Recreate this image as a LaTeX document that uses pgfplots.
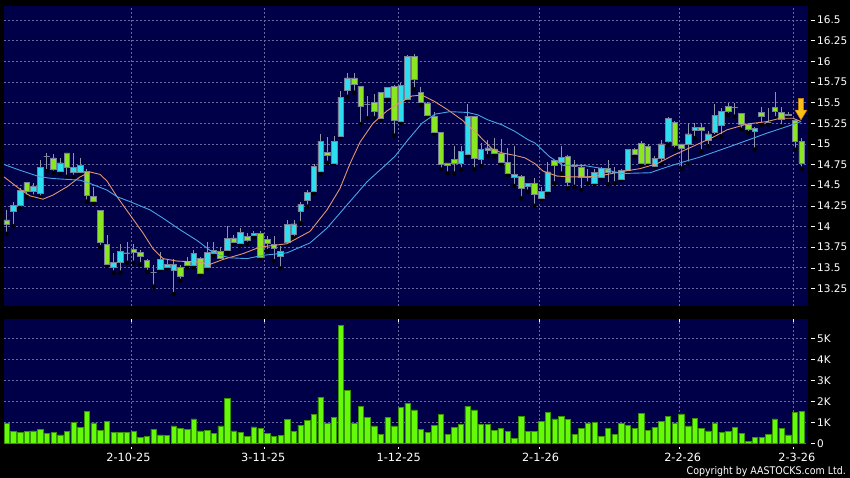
\documentclass[border=0pt]{standalone}
\usepackage{pgfplots}
\pgfplotsset{compat=1.18}
\usepackage{pgfplotstable}
\usepackage{fontspec}
\setmainfont{DejaVu Sans}
\newfontfamily\condfont{DejaVu Sans}[FakeStretch=0.9]
\definecolor{navy}{RGB}{0,0,72}
\definecolor{gridc}{RGB}{105,105,160}
\definecolor{upc}{RGB}{45,222,240}
\definecolor{dnc}{RGB}{138,230,32}
\definecolor{edgec}{RGB}{120,130,150}
\definecolor{wickc}{RGB}{140,148,165}
\definecolor{volc}{RGB}{100,250,10}
\definecolor{voledge}{RGB}{55,150,0}
\definecolor{maor}{RGB}{225,150,110}
\definecolor{mabl}{RGB}{70,165,230}
\definecolor{arrowc}{RGB}{250,192,25}
\definecolor{arrowe}{RGB}{200,130,0}
\newcommand\tl[1]{\rule[3.4pt]{3.5pt}{0.6pt}\hspace{2.5pt}#1}
\newcommand\sh[2]{\hspace*{#1}#2}

% daily candles: index, open, high, low, close
\pgfplotstableread{
i O H L C
0 14.08 14.20 13.91 14.03
1 14.18 14.30 14.00 14.25
2 14.25 14.46 14.22 14.44
3 14.53 14.54 14.36 14.42
4 14.42 14.53 14.36 14.48
5 14.40 14.81 14.35 14.71
6 14.85 14.89 14.67 14.85
7 14.83 14.88 14.65 14.69
8 14.67 14.83 14.64 14.77
9 14.89 14.89 14.60 14.72
10 14.66 14.89 14.60 14.71
11 14.65 14.83 14.62 14.74
12 14.67 14.69 14.30 14.38
13 14.36 14.48 14.28 14.30
14 14.19 14.20 13.75 13.81
15 13.78 13.89 13.52 13.54
16 13.51 13.68 13.44 13.56
17 13.57 13.79 13.44 13.70
18 13.68 13.81 13.56 13.68
19 13.72 13.79 13.56 13.69
20 13.69 13.71 13.54 13.64
21 13.59 13.61 13.45 13.50
22 13.44 13.53 13.27 13.44
23 13.48 13.69 13.47 13.60
24 13.50 13.59 13.49 13.54
25 13.47 13.61 13.18 13.54
26 13.50 13.53 13.34 13.40
27 13.58 13.63 13.50 13.53
28 13.53 13.71 13.50 13.67
29 13.61 13.63 13.41 13.43
30 13.50 13.81 13.49 13.69
31 13.68 13.81 13.65 13.71
32 13.70 13.75 13.59 13.61
33 13.71 14.00 13.68 13.85
34 13.86 13.90 13.79 13.81
35 13.79 13.98 13.77 13.93
36 13.88 13.92 13.79 13.83
37 13.89 13.94 13.87 13.92
38 13.92 13.94 13.61 13.63
39 13.84 13.88 13.70 13.79
40 13.78 13.88 13.58 13.74
41 13.64 13.76 13.49 13.70
42 13.81 14.08 13.79 14.02
43 13.91 14.08 13.86 14.03
44 14.18 14.29 14.04 14.27
45 14.32 14.44 14.24 14.41
46 14.42 14.75 14.40 14.73
47 14.67 15.12 14.63 15.03
48 14.90 15.08 14.77 14.86
49 14.77 15.10 14.76 15.03
50 15.09 15.64 15.08 15.56
51 15.65 15.86 15.57 15.80
52 15.80 15.86 15.62 15.72
53 15.70 15.70 15.24 15.45
54 15.48 15.58 15.31 15.48
55 15.50 15.60 15.31 15.40
56 15.62 15.63 15.29 15.31
57 15.56 15.69 15.53 15.68
58 15.70 15.71 15.10 15.29
59 15.27 15.74 15.25 15.71
60 15.54 16.08 15.53 16.06
61 16.06 16.09 15.66 15.78
62 15.62 15.69 15.47 15.50
63 15.49 15.51 15.31 15.34
64 15.33 15.38 15.12 15.14
65 15.14 15.14 14.69 14.75
66 14.77 14.77 14.64 14.74
67 14.81 14.97 14.64 14.76
68 14.76 14.97 14.69 14.91
69 14.87 15.48 14.85 15.33
70 15.33 15.33 14.69 14.82
71 14.81 15.01 14.73 14.93
72 14.92 15.05 14.85 14.95
73 14.94 15.07 14.85 14.89
74 14.89 15.06 14.75 14.78
75 14.78 14.95 14.62 14.64
76 14.60 14.97 14.49 14.63
77 14.61 14.62 14.34 14.46
78 14.48 14.53 14.42 14.52
79 14.52 14.59 14.25 14.39
80 14.34 14.48 14.32 14.42
81 14.42 14.78 14.40 14.66
82 14.80 14.81 14.52 14.74
83 14.78 14.97 14.64 14.84
84 14.85 14.87 14.46 14.54
85 14.73 14.80 14.48 14.73
86 14.72 14.76 14.44 14.59
87 14.60 14.69 14.52 14.60
88 14.52 14.69 14.51 14.65
89 14.60 14.72 14.58 14.70
90 14.70 14.81 14.51 14.66
91 14.66 14.72 14.52 14.66
92 14.57 14.69 14.56 14.68
93 14.68 14.94 14.66 14.93
94 14.93 14.95 14.85 14.87
95 15.01 15.03 14.74 14.77
96 14.97 15.00 14.74 14.76
97 14.73 14.85 14.72 14.82
98 14.82 15.05 14.76 15.00
99 15.03 15.33 14.99 15.31
100 15.26 15.28 14.93 14.98
101 15.00 15.00 14.70 14.95
102 14.99 15.25 14.76 15.12
103 15.17 15.25 15.07 15.20
104 15.20 15.25 14.91 15.16
105 15.04 15.15 14.97 15.12
106 15.14 15.48 15.09 15.34
107 15.23 15.43 15.09 15.39
108 15.45 15.49 15.35 15.40
109 15.44 15.49 15.33 15.44
110 15.37 15.37 15.17 15.24
111 15.24 15.24 15.13 15.18
112 15.15 15.20 14.93 15.19
113 15.38 15.45 15.23 15.33
114 15.26 15.43 15.23 15.26
115 15.44 15.63 15.31 15.39
116 15.38 15.45 15.21 15.30
117 15.34 15.39 15.33 15.36
118 15.28 15.28 14.93 15.03
119 15.03 15.07 14.70 14.77
}\candles

% short moving average (x in pixels)
\pgfplotstableread{
x y
4 14.60
20 14.45
30 14.37
43 14.33
53 14.38
67 14.48
80 14.60
90 14.66
100 14.63
107 14.55
117 14.36
130 14.14
143 13.92
153 13.73
163 13.61
177 13.58
197 13.57
210 13.54
223 13.60
243 13.67
260 13.75
287 13.79
310 13.94
327 14.20
340 14.46
350 14.76
360 15.02
373 15.25
387 15.40
400 15.50
412 15.58
422 15.59
435 15.51
448 15.41
462 15.29
475 15.15
483 15.05
492 14.94
502 14.89
515 14.86
525 14.83
535 14.76
543 14.67
557 14.61
570 14.60
587 14.60
603 14.62
620 14.66
640 14.70
657 14.76
673 14.86
693 14.97
713 15.08
727 15.17
747 15.24
767 15.27
780 15.31
793 15.31
801 15.27
}\maorange

% long moving average (x in pixels)
\pgfplotstableread{
x y
4 14.75
20 14.68
40 14.60
53 14.58
80 14.56
90 14.52
107 14.44
117 14.36
130 14.30
150 14.20
163 14.10
180 13.96
197 13.83
210 13.71
220 13.65
230 13.62
247 13.61
263 13.65
287 13.68
310 13.80
327 13.98
347 14.26
367 14.54
387 14.76
395 14.85
408 15.05
422 15.25
435 15.36
450 15.39
468 15.38
478 15.35
488 15.29
502 15.23
515 15.15
528 15.05
535 15.01
550 14.84
563 14.74
583 14.74
603 14.70
620 14.64
650 14.65
667 14.72
683 14.78
700 14.84
733 14.98
767 15.13
787 15.21
801 15.27
}\mablue

% volume in thousands
\pgfplotstableread{
i v
0 0.95
1 0.57
2 0.52
3 0.57
4 0.59
5 0.68
6 0.49
7 0.51
8 0.41
9 0.56
10 1.00
11 0.76
12 1.54
13 0.98
14 0.62
15 1.03
16 0.54
17 0.52
18 0.52
19 0.56
20 0.30
21 0.32
22 0.68
23 0.41
24 0.38
25 0.83
26 0.73
27 0.67
28 1.16
29 0.60
30 0.63
31 0.48
32 0.83
33 2.14
34 0.60
35 0.54
36 0.32
37 0.78
38 0.71
39 0.49
40 0.32
41 0.37
42 1.13
43 0.57
44 0.87
45 1.11
46 1.38
47 2.19
48 0.94
49 1.22
50 5.63
51 2.54
52 0.95
53 1.76
54 1.24
55 0.83
56 0.44
57 1.22
58 0.83
59 1.73
60 1.90
61 1.60
62 0.67
63 0.52
64 0.84
65 1.38
66 0.44
67 0.75
68 0.92
69 1.76
70 1.59
71 0.92
72 0.89
73 0.62
74 0.73
75 0.57
76 0.25
77 1.29
78 0.57
79 0.57
80 1.05
81 1.48
82 1.16
83 1.30
84 1.14
85 0.43
86 0.73
87 0.98
88 1.00
89 0.35
90 0.70
91 0.44
92 0.94
93 0.84
94 0.70
95 1.44
96 0.63
97 0.76
98 1.06
99 1.30
100 0.98
101 1.40
102 0.83
103 1.19
104 0.73
105 0.60
106 0.97
107 0.54
108 0.57
109 0.75
110 0.49
111 0.10
112 0.30
113 0.30
114 0.44
115 1.16
116 0.71
117 0.41
118 1.49
119 1.52
}\voltable

\pgfplotsset{
  frame/.style={
    scale only axis, width=804pt,
    xmin=-0.48, xmax=119.88,
  },
  panel/.style={
    frame,
    axis background/.style={fill=navy},
    axis line style={draw=none},
    /pgf/number format/assume math mode=true,
    grid=major,
    major grid style={gridc, dash pattern=on 2pt off 2pt, line width=0.5pt},
    xtick={18.71,38.56,58.68,79.73,100.69,117.78},
    tick align=outside,
    major tick length=2.2pt,
    ytick style={draw=none},
    yticklabel pos=right,
    yticklabel style={anchor=west, inner sep=0pt, xshift=1.3pt, text=white,
      font=\fontsize{10.5}{12}\selectfont},
  },
  pricebox/.style={at={(3.5pt,172pt)}, anchor=south west, height=300pt,
    ymin=13.036, ymax=16.67},
}

\begin{document}
\begin{tikzpicture}
\fill[black] (0pt,0pt) rectangle (850pt,478pt);
\useasboundingbox (0pt,0pt) rectangle (850pt,478pt);

% ---------------- price panel: background, grid, wicks ----------------
\begin{axis}[panel, pricebox,
  xticklabels={}, xtick style={draw=none},
  ytick={13.25,13.5,13.75,14,14.25,14.5,14.75,15,15.25,15.5,15.75,16,16.25,16.5},
  yticklabel={\tl{\pgfmathprintnumber{\tick}}},
]
\addplot[only marks, mark=none, forget plot, error bars/.cd, y dir=plus, y explicit, error mark=none, error bar style={line width=0.8pt, wickc}]
  table[x=i, y=L, y error plus expr=\thisrow{H}-\thisrow{L}] {\candles};
\end{axis}

% ---------------- candle bodies (stacked bars: invisible base + body) ----------------
\begin{axis}[frame, pricebox, hide axis, ybar stacked, stacked ignores zero=false, bar width=5.6pt]
\addplot[draw=none, fill=none] table[x=i, y expr={min(\thisrow{O},\thisrow{C})}] {\candles};
\addplot[fill=upc, draw=edgec, line width=0.6pt] table[x=i, y expr={max(\thisrow{C}-\thisrow{O},0)}] {\candles};
\addplot[fill=dnc, draw=edgec, line width=0.6pt] table[x=i, y expr={max(\thisrow{O}-\thisrow{C},0)}] {\candles};
\end{axis}

% ---------------- moving averages and marker ----------------
\begin{axis}[frame, pricebox, hide axis]
\addplot[maor, line width=0.9pt, no marks] table[x expr=(\thisrow{x}-6.7)/6.68, y=y] {\maorange};
\addplot[mabl, line width=0.9pt, no marks] table[x expr=(\thisrow{x}-6.7)/6.68, y=y] {\mablue};
\addplot[fill=arrowc, draw=arrowe, line width=0.5pt] coordinates {
  (118.5,15.55) (119.3,15.55) (119.3,15.41) (119.8,15.41) (118.9,15.29) (118.0,15.41) (118.5,15.41)} --cycle;
\end{axis}

% ---------------- volume panel ----------------
\begin{axis}[panel,
  at={(3.5pt,34pt)}, anchor=south west, height=125pt,
  ymin=-0.03, ymax=5.92,
  ytick={0,1,2,3,4,5},
  yticklabels={\tl{0},\tl{1K},\tl{2K},\tl{3K},\tl{4K},\tl{5K}},
  xticklabels={\sh{-6.4pt}{2-10-25},\sh{-2pt}{3-11-25},\sh{0pt}{1-12-25},\sh{2.4pt}{2-1-26},\sh{6.8pt}{2-2-26},\sh{6.6pt}{2-3-26}},
  xtick style={draw=white, line width=0.6pt, yshift=-2.7pt},
  xticklabel style={text=white, font=\fontsize{11.3}{13}\selectfont, yshift=-3pt},
]
\addplot[ybar, bar width=5.4pt, fill=volc, draw=voledge, line width=0.5pt] table[x=i, y=v] {\voltable};
\end{axis}

\node[anchor=base east, text=white, inner sep=0pt] at (846pt,3.5pt)
  {\condfont\fontsize{10.5}{12}\selectfont Copyright by AASTOCKS.com Ltd.};
\end{tikzpicture}
\end{document}
